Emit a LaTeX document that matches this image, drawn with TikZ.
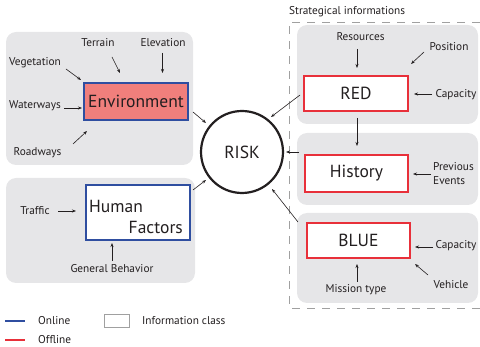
\documentclass[tikz,border=0pt]{standalone}
\usepackage{fontspec}
\setmainfont{PT Sans}
\usetikzlibrary{arrows.meta}
\definecolor{panel}{HTML}{E6E6E8}
\definecolor{envfill}{HTML}{F07F7C}
\definecolor{bblue}{HTML}{2F4EA0}
\definecolor{bred}{HTML}{E8303A}
\definecolor{txt}{HTML}{231F20}
\definecolor{dashc}{HTML}{A0A0A0}
\tikzset{
  panelbox/.style={fill=panel, rounded corners=10pt},
  lbl/.style={font=\fontsize{11.3}{14}\selectfont, text=txt, inner sep=0pt},
  big/.style={font=\fontsize{17.5}{19}\selectfont, text=txt},
  onbox/.style={draw=bblue, line width=1.1pt},
  offbox/.style={draw=bred, line width=1.1pt, fill=white, big},
  arr/.style={-{Stealth[length=4pt,width=3pt]}, line width=0.6pt, draw=txt},
  legline/.style={line width=1.2pt},
}
\begin{document}
\begin{tikzpicture}[x=1pt,y=-1pt]
\useasboundingbox (0,0) rectangle (480,347);
% panels
\fill[panelbox] (6,32) rectangle (193,165);
\fill[panelbox] (6,178) rectangle (195,283);
\fill[panelbox] (297,25) rectangle (478,124);
\fill[panelbox] (297,133) rectangle (478,205);
\fill[panelbox] (297,213) rectangle (478,303);
% strategical dashed frame
\draw[dashc, line width=0.5pt, dash pattern=on 8pt off 7pt] (480,22) -- (289,22) -- (289,308) -- (480,308);
\node[lbl, anchor=west] (strat) at (289,12) {Strategical informations};

% main nodes
\node[onbox, fill=envfill, minimum width=104pt, minimum height=37pt, big] (env) at (136,101.5) {Environment};
\node[onbox, fill=white, minimum width=104pt, minimum height=55pt] (hum) at (138,212.5) {};
\node[big, anchor=west, inner sep=0pt] (humA) at (89,206) {Human};
\node[big, anchor=east, inner sep=0pt] (humB) at (183,227) {Factors};
\node[circle, draw=txt, line width=2.2pt, minimum size=82pt, big, fill=white] (risk) at (242,152) {RISK};
\node[offbox, minimum width=104pt, minimum height=35pt] (red) at (356,93.5) {RED};
\node[offbox, minimum width=103pt, minimum height=37pt] (hist) at (356.5,173.5) {History};
\node[offbox, minimum width=103pt, minimum height=35pt] (blue) at (358.5,240.5) {BLUE};

% labels
\node[lbl] (terrain) at (98,43) {Terrain};
\node[lbl] (elev) at (163,43) {Elevation};
\node[lbl] (veg) at (35,63) {Vegetation};
\node[lbl] (water) at (35,106) {Waterways};
\node[lbl] (road) at (37.5,153) {Roadways};
\node[lbl] (traffic) at (35,211) {Traffic};
\node[lbl] (genb) at (112,269) {General Behavior};
\node[lbl] (res) at (360.5,37) {Resources};
\node[lbl] (pos) at (449,47) {Position};
\node[lbl] (cap1) at (456,95) {Capacity};
\node[lbl, anchor=west, align=left] (prev) at (433,173.5) {Previous\\Events};
\node[lbl] (cap2) at (456,246) {Capacity};
\node[lbl] (veh) at (451,285) {Vehicle};
\node[lbl] (miss) at (356,290) {Mission type};

% connector end points
\coordinate (t1) at (112,57);   \coordinate (t2) at (120,73);
\coordinate (e1) at (162.5,53); \coordinate (e2) at (162.5,73);
\coordinate (v1) at (66,69);    \coordinate (v2) at (81,80);
\coordinate (w1) at (64,108);   \coordinate (w2) at (82,108);
\coordinate (r1) at (73,144);   \coordinate (r2) at (87,131);
\coordinate (tr1) at (58,211);  \coordinate (tr2) at (76,211);
\coordinate (g1) at (112,261);  \coordinate (g2) at (112,243);
\coordinate (er1) at (193,112); \coordinate (er2) at (206,123);
\coordinate (hr1) at (193,190); \coordinate (hr2) at (206,180);
\coordinate (rr1) at (300,95);  \coordinate (rr2) at (271,117);
\coordinate (hs1) at (299,152); \coordinate (hs2) at (286,152);
\coordinate (br1) at (298,222); \coordinate (br2) at (272,189);
\coordinate (rs1) at (357,49);  \coordinate (rs2) at (357,68);
\coordinate (p1) at (424,52);   \coordinate (p2) at (411,64);
\coordinate (c1) at (432,94);   \coordinate (c2) at (414,94);
\coordinate (rh1) at (357,118); \coordinate (rh2) at (357,146);
\coordinate (pe1) at (431,174); \coordinate (pe2) at (413,174);
\coordinate (cb1) at (433,247); \coordinate (cb2) at (415,247);
\coordinate (vh1) at (428,275); \coordinate (vh2) at (415,264);
\coordinate (m1) at (357,282);  \coordinate (m2) at (357,264);

\draw[arr] (t1) -- (t2);
\draw[arr] (e1) -- (e2);
\draw[arr] (v1) -- (v2);
\draw[arr] (w1) -- (w2);
\draw[arr] (r1) -- (r2);
\draw[arr] (tr1) -- (tr2);
\draw[arr] (g1) -- (g2);
\draw[arr] (er1) -- (er2);
\draw[arr] (hr1) -- (hr2);
\draw[arr] (rr1) -- (rr2);
\draw[arr] (hs1) -- (hs2);
\draw[arr] (br1) -- (br2);
\draw[arr] (rs1) -- (rs2);
\draw[arr] (p1) -- (p2);
\draw[arr] (c1) -- (c2);
\draw[arr] (rh1) -- (rh2);
\draw[arr] (pe1) -- (pe2);
\draw[arr] (cb1) -- (cb2);
\draw[arr] (vh1) -- (vh2);
\draw[arr] (m1) -- (m2);

% legend
\coordinate (lo1) at (5,321); \coordinate (lo2) at (25,321);
\coordinate (lf1) at (5,340); \coordinate (lf2) at (25,340);
\draw[legline, bblue] (lo1) -- (lo2);
\draw[legline, bred] (lf1) -- (lf2);
\node[lbl, anchor=west] (online) at (38,321) {Online};
\node[lbl, anchor=west] (offline) at (38,340) {Offline};
\node[draw=dashc, line width=0.8pt, minimum width=25pt, minimum height=13pt, inner sep=0pt] (legbox) at (116.5,320.5) {};
\node[lbl, anchor=west] (infocl) at (142,321) {Information class};
\end{tikzpicture}
\end{document}
